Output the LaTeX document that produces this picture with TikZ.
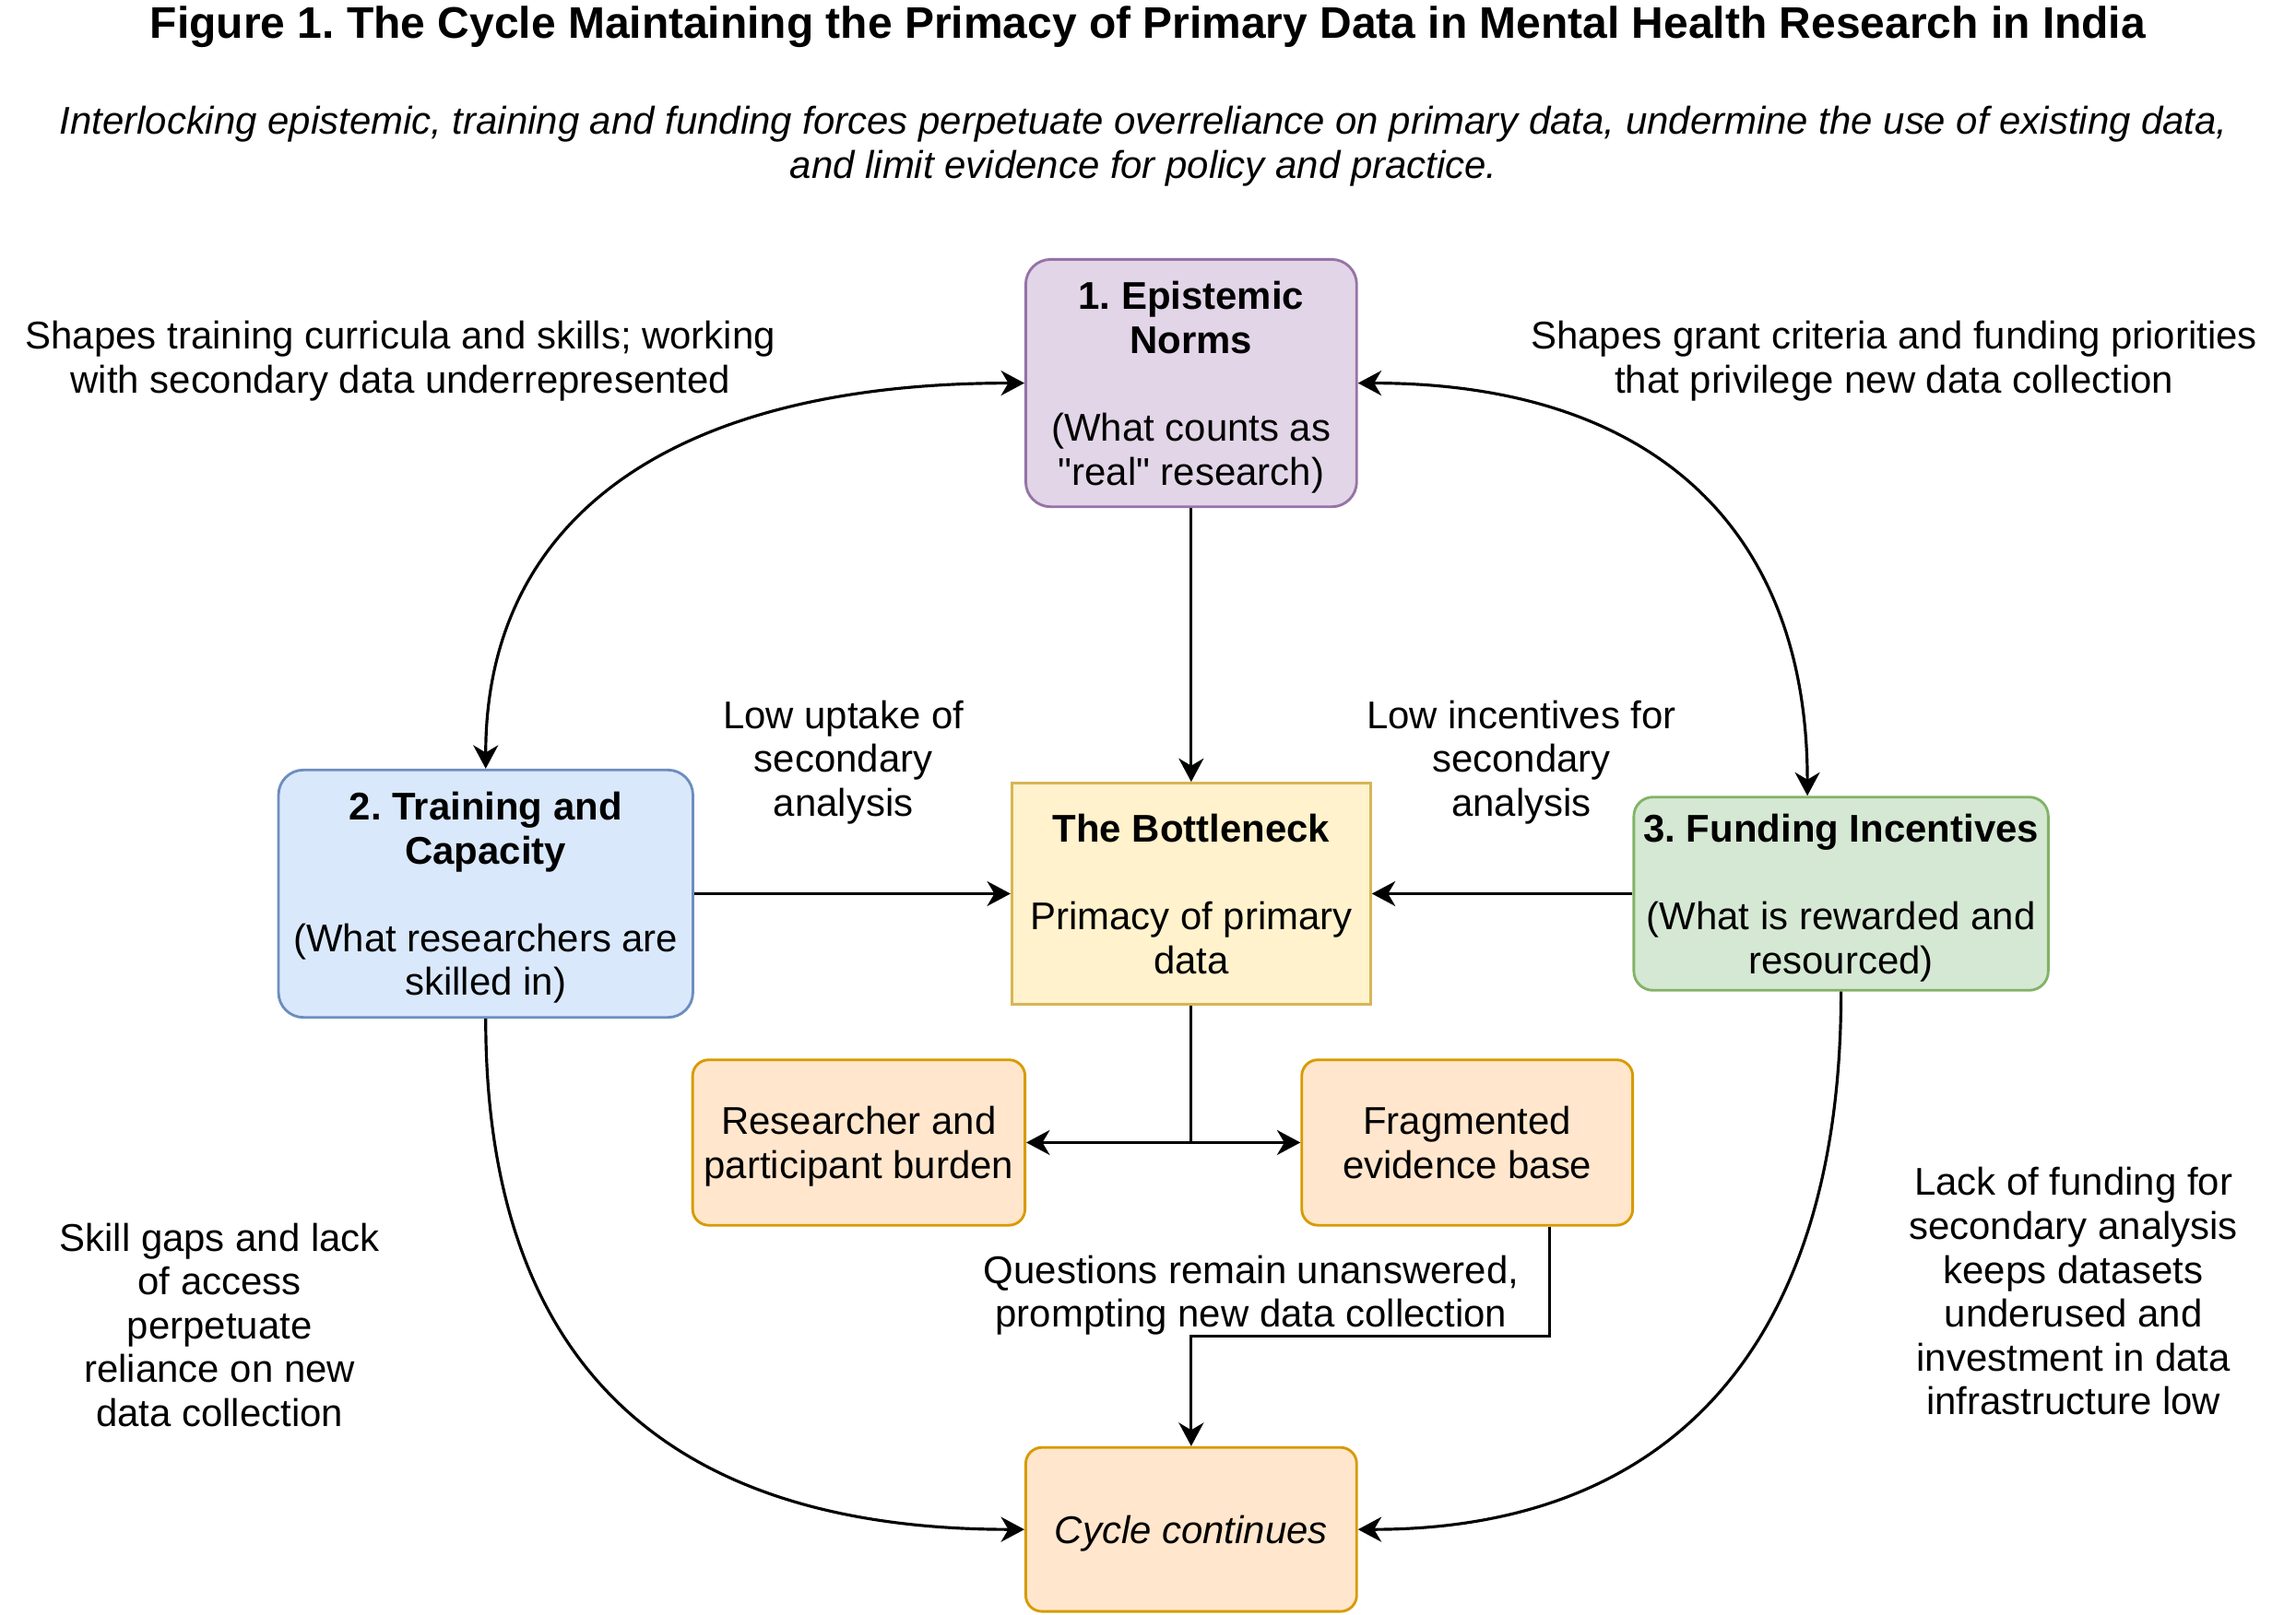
\documentclass[tikz,border=0pt]{standalone}
\usepackage{fontspec}
\setmainfont{Liberation Sans}[Ligatures=TeXOff]
\usepackage{tikz}
\usetikzlibrary{arrows.meta,positioning,calc}
\definecolor{Lilac}{HTML}{E1D5E7}
\definecolor{LilacLine}{HTML}{9673A6}
\definecolor{Sky}{HTML}{DAE8FC}
\definecolor{SkyLine}{HTML}{6C8EBF}
\definecolor{Mint}{HTML}{D5E8D4}
\definecolor{MintLine}{HTML}{82B366}
\definecolor{Cream}{HTML}{FFF2CC}
\definecolor{CreamLine}{HTML}{D6B656}
\definecolor{Peach}{HTML}{FFE6CC}
\definecolor{PeachLine}{HTML}{D79B00}
\frenchspacing

\begin{document}
\begin{tikzpicture}[x=0.5pt,y=-0.5pt,>={Stealth[length=8pt,width=8.5pt,inset=2.5pt]},
  every node/.style={font=\fontsize{13.2}{15}\selectfont,align=center,inner sep=1pt,text depth=0pt},
  box/.style={draw,line width=0.9pt,rounded corners=8.5pt},
  edge/.style={line width=1pt}]
\useasboundingbox (0,0) rectangle (1568,1103);
\node[font=\fontsize{15.1}{18}\selectfont\bfseries] (title) at (784,15.5) {Figure 1. The Cycle Maintaining the Primacy of Primary Data in Mental Health Research in India};
\node[font=\fontsize{13.2}{15}\selectfont\itshape] (sub) at (781,97) {Interlocking epistemic, training and funding forces perpetuate overreliance on primary data, undermine the use of existing data,\\and limit evidence for policy and practice.};
\node[box,sharp corners,draw=CreamLine,fill=Cream,minimum width=122.5pt,minimum height=75.5pt] (bottle) at (813.5,610.5) {\textbf{The Bottleneck}\\[15pt]Primacy of primary\\data};
\node[box,draw=LilacLine,fill=Lilac,minimum width=113pt,minimum height=84.5pt,above=93.5pt of bottle] (epi) {\textbf{1. Epistemic}\\\textbf{Norms}\\[15pt](What counts as\\"real" research)};
\node[box,draw=SkyLine,fill=Sky,minimum width=141.5pt,minimum height=84.5pt,left=108pt of bottle] (train) {\textbf{2. Training and}\\\textbf{Capacity}\\[15pt](What researchers are\\skilled in)};
\node[box,draw=MintLine,fill=Mint,rounded corners=6.5pt,minimum width=141.5pt,minimum height=66pt,right=89pt of bottle] (fund) {\textbf{3. Funding Incentives}\\[15pt](What is rewarded and\\resourced)};
\node[box,draw=PeachLine,fill=Peach,rounded corners=5.5pt,minimum width=113.5pt,minimum height=56.5pt] (burden) at (586.5,780.5) {Researcher and\\participant burden};
\node[box,draw=PeachLine,fill=Peach,rounded corners=5.5pt,minimum width=113pt,minimum height=56.5pt] (frag) at (1002,780.5) {Fragmented\\evidence base};
\node[box,draw=PeachLine,fill=Peach,rounded corners=5.5pt,minimum width=113pt,minimum height=56pt,below=150.5pt of bottle] (cycle) {\textit{Cycle continues}};
% edge labels
\node (lblTrain) at (273.5,244) {Shapes training curricula and skills; working\\with secondary data underrepresented};
\node (lblFund) at (1293.5,244) {Shapes grant criteria and funding priorities\\that privilege new data collection};
\node (lblUptake) at (576,518) {Low uptake of\\secondary\\analysis};
\node (lblIncent) at (1039,518) {Low incentives for\\secondary\\analysis};
\node (lblSkill) at (150,905) {Skill gaps and lack\\of access\\perpetuate\\reliance on new\\data collection};
\node (lblLack) at (1416,882) {Lack of funding for\\secondary analysis\\keeps datasets\\underused and\\investment in data\\infrastructure low};
\node (lblQuest) at (854.5,882) {Questions remain unanswered,\\prompting new data collection};
% connectors
\draw[->,edge] (epi) -- (bottle);
\draw[->,edge] (train) -- (bottle);
\draw[->,edge] (fund) -- (bottle);
\coordinate (split) at (bottle.south |- burden.east);
\draw[edge] (bottle) -- (split);
\draw[->,edge] (split) -- (burden);
\draw[->,edge] (split) -- (frag);
\draw[->,edge] ([xshift=28pt]frag.south) -- ++(0,75) -| (cycle.north);
\draw[<->,edge] (epi.west) .. controls +(-240,0) and +(0,-172) .. (train.north);
\draw[<->,edge] (epi.east) .. controls +(200,0) and +(0,-184) .. ([xshift=-11.5pt]fund.north);
\draw[->,edge] (train.south) .. controls +(0,240) and +(-240,0) .. (cycle.west);
\draw[->,edge] (fund.south) .. controls +(0,240) and +(215,0) .. (cycle.east);
\end{tikzpicture}
\end{document}
